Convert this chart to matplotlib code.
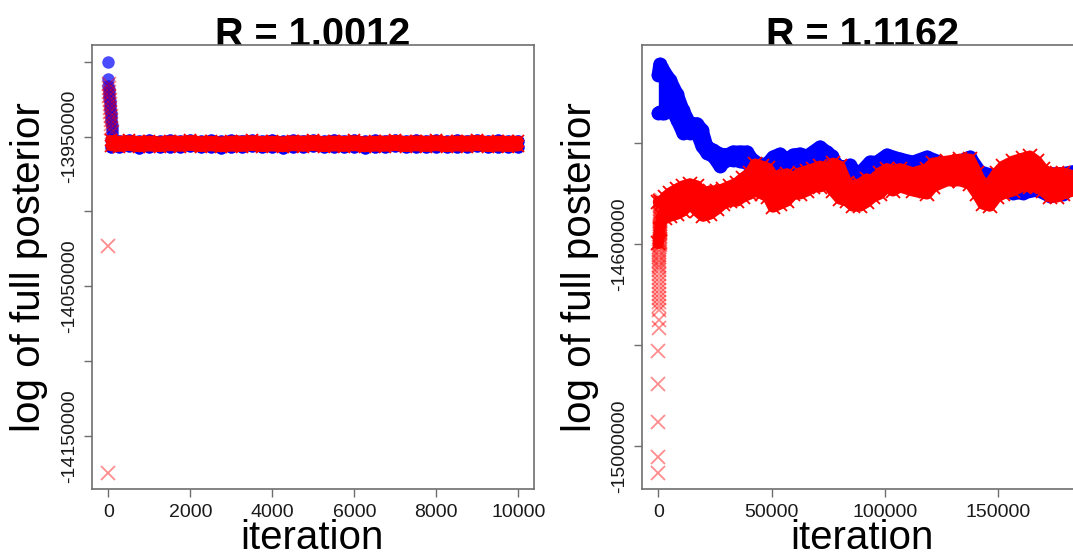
import matplotlib
matplotlib.use("Agg")
import matplotlib.pyplot as plt

# ---------------- data ----------------
titles = ["R = 1.0012", "R = 1.1162"]
xlabel = "iteration"
ylabel = "log of full posterior"

# Left panel: burn-in points
L_blue_burn_it = [0, 2, 4, 10, 16, 22, 28, 34, 40, 46, 52, 58, 64, 70, 76, 82, 88, 94, 100]
L_blue_burn_v = [-13900000, -13911600, -13916300, -13918300, -13920300, -13922300, -13924300,
                 -13926300, -13928300, -13930300, -13932300, -13934300, -13936300, -13938300,
                 -13940300, -13942300, -13944300, -13946300, -13948300]
L_red_burn_it = [0, 1, 6, 12, 18, 24, 30, 36, 42, 48, 54, 60, 66, 72, 78]
L_red_burn_v = [-14174600, -14023400, -13915000, -13917600, -13920300, -13923000, -13925600,
                -13928300, -13931000, -13933600, -13936300, -13939000, -13941700, -13944300,
                -13947000]

# Left panel: stationary band (upper / lower envelope of the chain)
L_it = [60, 250, 500, 750, 1000, 1250, 1500, 1750, 2000, 2250, 2500, 2750, 3000, 3250, 3500,
        3750, 4000, 4250, 4500, 4750, 5000, 5250, 5500, 5750, 6000, 6250, 6500, 6750, 7000,
        7250, 7500, 7750, 8000, 8250, 8500, 8750, 9000, 9250, 9500, 9750, 10000]
L_red_hi = [-13952500, -13953000, -13952600, -13953200, -13952800, -13953400, -13952700,
            -13953100, -13952500, -13953300, -13952900, -13953500, -13952800, -13953000,
            -13952600, -13953200, -13952900, -13953400, -13952700, -13953000, -13952500,
            -13953300, -13952800, -13953100, -13952600, -13953400, -13952900, -13953000,
            -13952400, -13953200, -13952700, -13953100, -13952600, -13953300, -13952800,
            -13953000, -13952500, -13953200, -13952900, -13953100, -13953000]
L_red_lo = [-13956300, -13956800, -13956200, -13957000, -13956500, -13956900, -13956300,
            -13956700, -13956100, -13956900, -13956400, -13957000, -13956600, -13956800,
            -13956200, -13956900, -13956500, -13957000, -13956300, -13956700, -13956200,
            -13956900, -13956500, -13956800, -13956300, -13957000, -13956600, -13956700,
            -13956200, -13956900, -13956400, -13956800, -13956300, -13957000, -13956500,
            -13956700, -13956200, -13956900, -13956600, -13956800, -13956500]
L_blue_hi = [-13952200, -13952900, -13952300, -13953000, -13952400, -13953200, -13952200,
             -13953000, -13952200, -13953100, -13952500, -13953300, -13952300, -13952700,
             -13952200, -13953000, -13952100, -13953200, -13952300, -13952800, -13952200,
             -13953100, -13952000, -13952900, -13952300, -13953200, -13952600, -13952800,
             -13952100, -13953000, -13952400, -13952900, -13952200, -13953100, -13952500,
             -13952800, -13952200, -13953000, -13952600, -13952900, -13952700]
L_blue_lo = [-13956800, -13957100, -13956500, -13957400, -13956800, -13957200, -13956700,
             -13957000, -13956500, -13957300, -13956800, -13957500, -13956900, -13957100,
             -13956600, -13957300, -13956800, -13957400, -13956700, -13957000, -13956600,
             -13957300, -13956900, -13957200, -13956700, -13957400, -13956900, -13957000,
             -13956600, -13957300, -13956800, -13957100, -13956700, -13957300, -13956900,
             -13957000, -13956600, -13957200, -13957000, -13957100, -13956800]

# Right panel: red burn-in points (starting far below, getting denser upwards)
R_red_burn_it = [0, 20, 40, 60, 80, 100, 120, 140, 160, 180, 200, 220, 240, 260, 280, 300,
                 320, 340, 360, 380, 400, 420, 440, 460, 480, 500, 520, 540, 560, 580, 600,
                 620, 640, 660, 680, 700, 720, 740, 760, 780, 800, 820, 840, 860, 880, 900,
                 920, 940, 960, 980, 1000, 1020, 1040, 1060, 1080, 1100, 1120, 1140]
R_red_burn_v = [-15052500, -15020800, -14952500, -14876200, -14810900, -14764400, -14750500,
                -14730700,
                -14721800, -14713900, -14705900, -14698000, -14690100, -14682200, -14674300,
                -14666300, -14658400, -14650500,
                -14645500, -14640600, -14635600, -14630700, -14625700, -14620800, -14615800,
                -14610900, -14605900, -14601000,
                -14598000, -14595100, -14592100, -14589100, -14586100, -14583200, -14580200,
                -14577200, -14574300, -14571300, -14568300, -14565300, -14562400, -14559400,
                -14556400, -14553500, -14550500, -14547500, -14544600, -14541600, -14538600,
                -14535600, -14532700, -14529700, -14526700, -14523800, -14520800, -14517800,
                -14514900, -14511900]

# Right panel: blue chain envelope
R_blue_it = [0, 700, 1500, 2700, 5160, 8250, 10890, 13980, 17060, 19270, 21470, 24120, 27210,
             30290, 32940, 36020, 39110, 41750, 44840, 47930, 50570, 53660, 56750, 59390, 62480,
             65560, 68210, 71290, 74380, 76580, 78790, 81430, 84520, 87610, 90250, 93340, 96420,
             100830, 106560, 112290, 118470, 124200, 129930, 137430, 141840, 146250, 150660,
             156390, 160800, 166970, 172700, 178440, 182850]
R_blue_hi = [-14264000, -14243000, -14250000, -14258000, -14274000, -14302000, -14334000,
             -14361000, -14361000, -14373000, -14407000, -14413000, -14421000, -14423000,
             -14417000, -14417000, -14417000, -14433000, -14441000, -14441000, -14427000,
             -14421000, -14433000, -14423000, -14421000, -14425000, -14417000, -14407000,
             -14417000, -14425000, -14443000, -14447000, -14443000, -14460000, -14452000,
             -14437000, -14437000, -14423000, -14431000, -14437000, -14427000, -14437000,
             -14441000, -14427000, -14456000, -14462000, -14472000, -14476000, -14478000,
             -14472000, -14460000, -14460000, -14456000]
R_blue_lo = [-14340000, -14338000, -14340000, -14340000, -14326000, -14353000, -14379000,
             -14379000, -14379000, -14405000, -14419000, -14425000, -14445000, -14433000,
             -14433000, -14435000, -14439000, -14449000, -14452000, -14452000, -14449000,
             -14449000, -14452000, -14449000, -14445000, -14445000, -14443000, -14439000,
             -14443000, -14449000, -14456000, -14460000, -14456000, -14468000, -14464000,
             -14456000, -14456000, -14452000, -14456000, -14456000, -14452000, -14456000,
             -14462000, -14456000, -14472000, -14482000, -14492000, -14498000, -14498000,
             -14492000, -14504000, -14500000, -14488000]

# Right panel: red chain envelope (dense part, incl. the end of the burn-in column)
R_red_it = [0, 700, 1500, 3000, 5160, 8250, 10890, 13980, 17060, 19710, 22790, 25880, 28520,
            31610, 34700, 37340, 40430, 42640, 45720, 48370, 50570, 53660, 56750, 59390, 62480,
            65560, 68210, 71290, 74380, 77020, 80110, 83190, 85840, 88920, 92010, 94650, 97740,
            100830, 103470, 106560, 112290, 118470, 121110, 127280, 133020, 137430, 140510,
            143160, 146250, 149330, 151980, 156390, 160800, 163890, 166970, 169620, 172700,
            175790, 178440, 182850]
R_red_hi = [-14516000, -14514000, -14518000, -14506000, -14498000, -14490000, -14484000,
            -14480000, -14484000,
            -14498000, -14494000, -14494000, -14490000, -14484000, -14478000, -14468000,
            -14458000, -14441000, -14445000, -14449000, -14464000, -14464000, -14460000,
            -14468000, -14458000, -14454000, -14450000, -14445000, -14449000, -14439000,
            -14445000, -14478000, -14484000, -14480000, -14470000, -14478000, -14458000,
            -14450000, -14454000, -14450000, -14458000, -14450000, -14439000, -14435000,
            -14431000, -14431000, -14458000, -14484000, -14478000, -14458000, -14445000,
            -14435000, -14429000, -14425000, -14435000, -14450000, -14460000, -14458000,
            -14458000, -14464000]
R_red_lo = [-14598000, -14570000, -14544000, -14548000, -14544000, -14540000, -14534000,
            -14520000, -14534000,
            -14544000, -14540000, -14530000, -14520000, -14514000, -14514000, -14506000,
            -14500000, -14494000, -14500000, -14506000, -14526000, -14520000, -14514000,
            -14500000, -14500000, -14494000, -14486000, -14486000, -14480000, -14494000,
            -14510000, -14514000, -14524000, -14524000, -14516000, -14506000, -14500000,
            -14486000, -14494000, -14486000, -14494000, -14500000, -14486000, -14474000,
            -14474000, -14480000, -14500000, -14520000, -14524000, -14506000, -14500000,
            -14494000, -14484000, -14486000, -14486000, -14494000, -14506000, -14506000,
            -14500000, -14494000]

# Axis ticks
L_xticks = [0, 2000, 4000, 6000, 8000, 10000]
L_yticks = [-14150000, -14100000, -14050000, -14000000, -13950000, -13900000]
L_ylabels = ["-14150000", "", "-14050000", "", "-13950000", ""]
R_xticks = [0, 50000, 100000, 150000]
R_yticks = [-15000000, -14800000, -14600000, -14400000]
R_ylabels = ["-15000000", "", "-14600000", ""]

# ---------------- styling ----------------
plt.rcParams['font.family'] = ['Liberation Sans', 'DejaVu Sans']
W, H = 1073, 552
fig = plt.figure(figsize=(W / 100, H / 100), dpi=100)

BLUE = (0, 0, 1)
RED = (1, 0, 0)
FRAME = '#6e6e6e'


def px_axes(x0, y0, x1, y1):
    return fig.add_axes([x0 / W, 1 - y1 / H, (x1 - x0) / W, (y1 - y0) / H])


def band(ax, it, lo, hi, color, marker, ms, lw, z):
    ax.fill_between(it, lo, hi, color=color, lw=0, zorder=z)
    for arr in (lo, hi):
        if marker == 'o':
            ax.plot(it, arr, color=color, lw=lw, solid_capstyle='round',
                    solid_joinstyle='round', marker='o', ms=ms, mfc=color, mec=color, mew=0,
                    zorder=z)
        else:
            ax.plot(it, arr, color=color, lw=lw, solid_capstyle='round',
                    solid_joinstyle='round', marker='x', ms=ms, mec=color, mew=1.3, zorder=z)


def style(ax, xticks, yticks, ylabels):
    for s in ax.spines.values():
        s.set_color(FRAME)
        s.set_linewidth(1.2)
    ax.set_xticks(xticks)
    ax.set_xticklabels([str(t) for t in xticks])
    ax.set_yticks(yticks)
    ax.set_yticklabels(ylabels)
    ax.tick_params(axis='both', direction='out', length=5.8, width=1.0, color=FRAME,
                   labelsize=14, labelcolor='#1a1a1a')
    ax.tick_params(axis='x', pad=5.0)
    ax.tick_params(axis='y', pad=4.0, labelrotation=90)
    for lbl in ax.get_yticklabels():
        lbl.set_va('center')


# ----- left panel -----
axL = px_axes(92, 45, 534, 489)
band(axL, L_it, L_blue_lo, L_blue_hi, BLUE, 'o', 9, 7, 2)
axL.plot(L_blue_burn_it, L_blue_burn_v, ls='none', marker='o', ms=9, mfc=(0, 0, 1, 0.7),
         mew=0, zorder=2)
band(axL, L_it, L_red_lo, L_red_hi, RED, 'x', 9, 7.5, 3)
axL.plot(L_red_burn_it, L_red_burn_v, ls='none', marker='x', ms=10, mec=(1, 0, 0, 0.45),
         mew=1.3, zorder=3)
axL.set_xlim(-398, 10383)
axL.set_ylim(-14185300, -13888900)
style(axL, L_xticks, L_yticks, L_ylabels)

# ----- right panel -----
axR = px_axes(642, 45, 1082, 489)
band(axR, R_blue_it, R_blue_lo, R_blue_hi, BLUE, 'o', 10, 9.5, 2)
band(axR, R_red_it, R_red_lo, R_red_hi, RED, 'x', 10, 8, 3)
axR.plot(R_red_burn_it, R_red_burn_v, ls='none', marker='x', ms=10, mec=(1, 0, 0, 0.45),
         mew=1.3, zorder=3)
axR.set_xlim(-7190, 186860)
axR.set_ylim(-15084200, -14204950)
style(axR, R_xticks, R_yticks, R_ylabels)

# ----- texts -----
for cx, t in zip([313, 863], titles):
    fig.text(cx / W, 1 - 46 / H, t, ha='center', va='baseline', fontsize=28.5,
             fontweight='bold', zorder=-1)
for cx in [312, 862]:
    fig.text(cx / W, 1 - 549 / H, xlabel, ha='center', va='baseline', fontsize=29)
for cx in [29, 580]:
    fig.text(cx / W, 1 - 267 / H, ylabel, ha='center', va='center', rotation=90, fontsize=29)

fig.savefig("out.png", dpi=100)
